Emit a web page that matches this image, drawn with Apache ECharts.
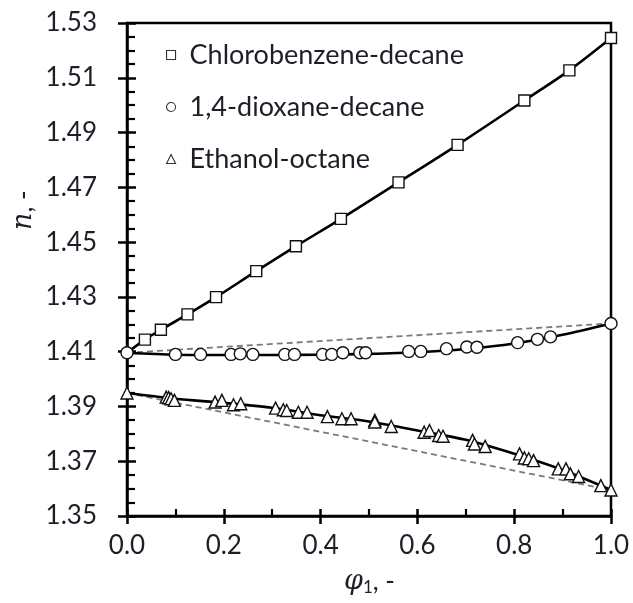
<!DOCTYPE html>
<html>
<head>
<meta charset="utf-8">
<script src="https://cdn.jsdelivr.net/npm/echarts@6/dist/echarts.min.js"></script>
<style>
html,body{margin:0;padding:0;background:#fff;}
#chart{width:633px;height:603px;}
</style>
</head>
<body>
<div id="chart"></div>
<script>
// ---- Data ----
const legendNames = ['Chlorobenzene-decane', '1,4-dioxane-decane', 'Ethanol-octane'];

// Chlorobenzene-decane (squares)
const chloroPhi = [0.037, 0.070, 0.125, 0.184, 0.267, 0.349, 0.442, 0.561, 0.683, 0.821, 0.914, 1.000];
const chloroN   = [1.4144, 1.4180, 1.4236, 1.4299, 1.4394, 1.4485, 1.4585, 1.4718, 1.4855, 1.5017, 1.5127, 1.5245];
const chloroCurvePhi = [0, 0.037, 0.070, 0.125, 0.184, 0.267, 0.349, 0.442, 0.561, 0.683, 0.821, 0.914, 1.000];
const chloroCurveN   = [1.4096, 1.4144, 1.4180, 1.4236, 1.4299, 1.4394, 1.4485, 1.4585, 1.4718, 1.4855, 1.5017, 1.5127, 1.5245];

// 1,4-dioxane-decane (circles)
const dioxPhi = [0, 0.100, 0.152, 0.215, 0.234, 0.260, 0.326, 0.346, 0.404, 0.423, 0.446, 0.481, 0.493, 0.582, 0.607, 0.660, 0.702, 0.723, 0.807, 0.848, 0.875, 1.000];
const dioxN   = [1.4096, 1.4090, 1.4090, 1.4090, 1.4092, 1.4090, 1.4090, 1.4090, 1.4090, 1.4090, 1.4096, 1.4096, 1.4096, 1.4101, 1.4101, 1.4111, 1.4117, 1.4116, 1.4133, 1.4145, 1.4154, 1.4203];
const dioxCurvePhi = [0, 0.1, 0.2, 0.3, 0.4, 0.5, 0.6, 0.7, 0.8, 0.9, 1.0];
const dioxCurveN   = [1.4096, 1.4089, 1.4088, 1.4088, 1.4089, 1.4092, 1.4098, 1.4110, 1.4130, 1.4162, 1.4203];
const dioxIdealPhi = [0, 1];
const dioxIdealN   = [1.4096, 1.4203];

// Ethanol-octane (triangles)
const ethPhi = [0, 0.081, 0.086, 0.091, 0.098, 0.182, 0.196, 0.220, 0.235, 0.307, 0.323, 0.330, 0.354, 0.372, 0.414, 0.444, 0.463, 0.512, 0.512, 0.546, 0.614, 0.625, 0.644, 0.653, 0.714, 0.718, 0.740, 0.811, 0.821, 0.830, 0.840, 0.891, 0.907, 0.916, 0.933, 0.979, 1.000];
const ethN   = [1.3949, 1.3934, 1.3932, 1.3928, 1.3922, 1.3916, 1.3922, 1.3906, 1.3910, 1.3894, 1.3888, 1.3885, 1.3879, 1.3879, 1.3863, 1.3855, 1.3855, 1.3849, 1.3843, 1.3827, 1.3806, 1.3812, 1.3794, 1.3791, 1.3776, 1.3763, 1.3754, 1.3727, 1.3712, 1.3709, 1.3702, 1.3672, 1.3672, 1.3654, 1.3644, 1.3611, 1.3595];
const ethCurvePhi = [0, 0.1, 0.2, 0.3, 0.4, 0.5, 0.6, 0.7, 0.8, 0.9, 1.0];
const ethCurveN   = [1.3949, 1.3928, 1.3913, 1.3895, 1.3868, 1.3845, 1.3812, 1.3778, 1.3727, 1.3668, 1.3595];
const ethIdealPhi = [0, 1];
const ethIdealN   = [1.3949, 1.3595];

// Axis settings
const xMin = 0, xMax = 1, xStep = 0.2;
const yMin = 1.35, yMax = 1.53, yStep = 0.02;

// ---- Build chart ----
const pairs = (xs, ys) => xs.map((x, i) => [x, ys[i]]);
const FONT = 'Lato';
const TXT = '#1e1e28';

const chart = echarts.init(document.getElementById('chart'), null, {renderer: 'canvas'});

const gridRect = {left: 127, right: 22, top: 23, bottom: 87};

function solidLine(xs, ys) {
  return {type: 'line', xAxisIndex: 0, yAxisIndex: 0, data: pairs(xs, ys), smooth: 0.3,
    showSymbol: false, symbol: 'none', silent: true, z: 3,
    lineStyle: {color: '#000', width: 2.6}};
}
function dashLine(xs, ys) {
  return {type: 'line', xAxisIndex: 0, yAxisIndex: 0, data: pairs(xs, ys),
    showSymbol: false, symbol: 'none', silent: true, z: 2,
    lineStyle: {color: '#7a7a7a', width: 1.8, type: [6, 4]}};
}
function markers(name, xs, ys, symbol, size) {
  return {name: name, type: 'scatter', xAxisIndex: 0, yAxisIndex: 0, data: pairs(xs, ys),
    symbol: symbol, symbolSize: size, z: 5,
    itemStyle: {color: '#fff', borderColor: '#111', borderWidth: 1.4, opacity: 1}};
}

const option = {
  backgroundColor: '#fff',
  animation: false,
  grid: [
    Object.assign({show: true, borderColor: '#000', borderWidth: 2.5, backgroundColor: 'transparent'}, gridRect),
    Object.assign({show: false}, gridRect)
  ],
  xAxis: [
    {type: 'value', gridIndex: 0, min: xMin, max: xMax, interval: xStep, position: 'bottom',
     axisLine: {show: true, onZero: false, lineStyle: {color: '#000', width: 2.5}},
     axisTick: {show: true, inside: false, length: 8, lineStyle: {color: '#000', width: 2.5}},
     minorTick: {show: false}, splitLine: {show: false},
     axisLabel: {show: true, margin: 17, color: TXT, fontFamily: FONT, fontSize: 26,
       formatter: v => v.toFixed(1)}},
    {type: 'value', gridIndex: 1, min: xMin, max: xMax, interval: xStep, position: 'bottom',
     axisLine: {show: false, onZero: false},
     axisTick: {show: true, inside: true, length: 7, lineStyle: {color: '#000', width: 2.5}},
     minorTick: {show: true, splitNumber: 2, length: 7, lineStyle: {color: '#000', width: 2.2}},
     splitLine: {show: false}, axisLabel: {show: false}}
  ],
  yAxis: [
    {type: 'value', gridIndex: 0, min: yMin, max: yMax, interval: yStep, position: 'left',
     axisLine: {show: true, onZero: false, lineStyle: {color: '#000', width: 2.5}},
     axisTick: {show: true, inside: false, length: 9, lineStyle: {color: '#000', width: 2.5}},
     minorTick: {show: false}, splitLine: {show: false},
     axisLabel: {show: true, margin: 30, color: TXT, fontFamily: FONT, fontSize: 26,
       formatter: v => v.toFixed(2)}},
    {type: 'value', gridIndex: 1, min: yMin, max: yMax, interval: yStep, position: 'left',
     axisLine: {show: false, onZero: false},
     axisTick: {show: true, inside: true, length: 9, lineStyle: {color: '#000', width: 2.5}},
     minorTick: {show: true, splitNumber: 4, length: 8, lineStyle: {color: '#000', width: 2.2}},
     splitLine: {show: false}, axisLabel: {show: false}}
  ],
  legend: {
    show: true, orient: 'vertical', left: 161, top: 35,
    data: legendNames, itemWidth: 9, itemHeight: 9, itemGap: 22,
    itemStyle: {borderWidth: 1.1, borderColor: '#333'},
    textStyle: {color: TXT, fontFamily: FONT, fontSize: 27, lineHeight: 30, padding: [0, 0, 0, 9]},
    selectedMode: false
  },
  series: [
    dashLine(dioxIdealPhi, dioxIdealN),
    dashLine(ethIdealPhi, ethIdealN),
    solidLine(chloroCurvePhi, chloroCurveN),
    solidLine(dioxCurvePhi, dioxCurveN),
    solidLine(ethCurvePhi, ethCurveN),
    markers(legendNames[0], chloroPhi, chloroN, 'rect', 11),
    markers(legendNames[1], dioxPhi, dioxN, 'circle', 12),
    markers(legendNames[2], ethPhi, ethN, 'triangle', 12)
  ],
  graphic: [
    {type: 'text', left: 344, top: 568, z: 10,
     style: {rich: {
       i: {fontFamily: 'DejaVu Serif', fontStyle: 'italic', fontSize: 27, fill: TXT},
       s: {fontFamily: FONT, fontSize: 17, fill: TXT, verticalAlign: 'bottom', padding: [12, 0, 0, 0]},
       r: {fontFamily: FONT, fontSize: 26, fill: TXT}
     }, text: '{i|φ}{s|1}{r|, -}'}},
    {type: 'text', x: 10, y: 230, rotation: Math.PI / 2, z: 10,
     style: {rich: {
       i: {fontFamily: 'DejaVu Serif', fontStyle: 'italic', fontSize: 27, fill: TXT},
       r: {fontFamily: FONT, fontSize: 26, fill: TXT}
     }, text: '{i|n}{r|, -}'}}
  ]
};
chart.setOption(option);
</script>
</body>
</html>
